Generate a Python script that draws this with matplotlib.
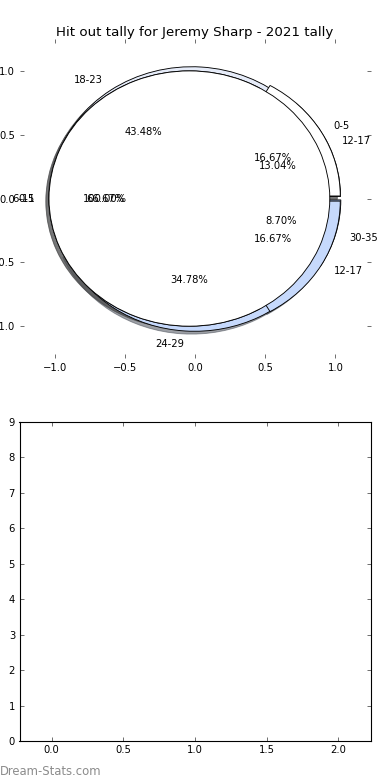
import matplotlib
matplotlib.use("Agg")
import matplotlib.pyplot as plt
import numpy as np

# ── Data ────────────────────────────────────────────────────────────────
groups_main = ["12-17", "18-23", "24-29", "30-35"]
hitouts_main = [3, 10, 8, 2]

groups_second = ["0-5", "6-11", "12-17"]
hitouts_second = [1, 4, 1]

groups_third = ["0-5"]
hitouts_third = [1]

wedge_colors = ["#ffffff", "#e6ecf9", "#c6d9fc", "#a8c4f5"]

title = "Hit out tally for Jeremy Sharp - 2021 tally"
pie_ticks = [-1.0, -0.5, 0.0, 0.5, 1.0]
bar_xticks = [0.0, 0.5, 1.0, 1.5, 2.0]
bar_yticks = list(range(10))

plt.rcParams.update({
    "font.family": "DejaVu Sans",
    "font.size": 9,
    "xtick.direction": "in",
    "ytick.direction": "in",
    "xtick.top": True,
    "ytick.right": True,
    "xtick.major.size": 4,
    "ytick.major.size": 4,
    "xtick.major.width": 0.5,
    "ytick.major.width": 0.5,
    "xtick.major.pad": 4,
    "ytick.major.pad": 4,
    "axes.linewidth": 1.0,
})

fig, (ax, ax2) = plt.subplots(2, 1, figsize=(4.875, 9.75), dpi=80)
fig.patch.set_facecolor("white")
fig.subplots_adjust(left=0.05, right=0.95, top=0.95, bottom=0.05, hspace=0.2)

wp = {"edgecolor": "black", "linewidth": 0.8}


def draw_pie(values, labels):
    ax.pie(values, labels=labels, explode=[0.04] * len(values),
           colors=wedge_colors[:len(values)], autopct="%.2f%%",
           shadow=True, startangle=0, wedgeprops=wp,
           textprops={"fontsize": 9})


draw_pie(hitouts_main, groups_main)
draw_pie(hitouts_second, groups_second)
draw_pie(hitouts_third, groups_third)

ax.set_aspect("auto")
ax.set_frame_on(False)
ax.set_xlim(-1.25, 1.25)
ax.set_ylim(-1.25, 1.25)
ax.set_xticks(pie_ticks)
ax.set_yticks(pie_ticks)
ax.set_title(title, fontsize=12, pad=3)

ax2.set_xlim(-0.225, 2.225)
ax2.set_ylim(0, 9)
ax2.set_xticks(bar_xticks)
ax2.set_yticks(bar_yticks)

fig.text(0.0, 0.007, "Dream-Stats.com", fontsize=10.5, color="#8c8c8c",
         ha="left", va="baseline")

fig.savefig("out.png", dpi=80, facecolor="white")
